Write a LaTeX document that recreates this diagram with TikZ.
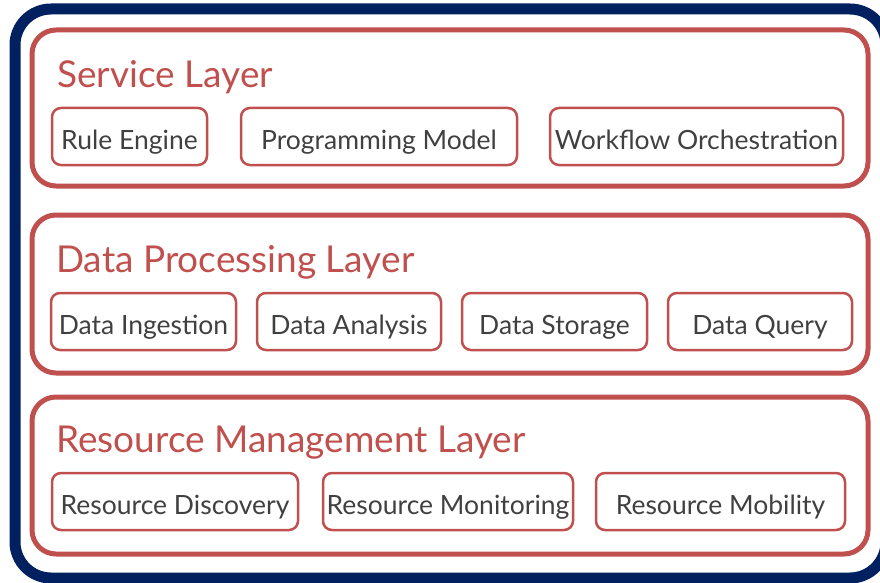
\documentclass[tikz,border=0pt]{standalone}
\usepackage{fontspec}
\setmainfont{Lato}
\usetikzlibrary{positioning}

\definecolor{navy}{HTML}{002060}
\definecolor{layerred}{HTML}{C0504D}
\definecolor{textgray}{HTML}{404040}

\begin{document}
\begin{tikzpicture}[
    x=1pt, y=-1pt,
    layer/.style={draw=layerred, line width=5pt, rounded corners=24pt, minimum width=836pt, inner sep=0pt},
    title/.style={anchor=base west, text=layerred, inner sep=0pt, font=\fontsize{37}{40}\selectfont},
    comp/.style={draw=layerred, line width=2.5pt, rounded corners=9pt, minimum height=57pt, inner sep=0pt,
                 text=textgray, text height=25pt, text depth=0pt, font=\fontsize{26.5}{30}\selectfont}
]

\useasboundingbox (0,0) rectangle (880,583);
\clip (0,0) rectangle (880,583);

% outer frame
\draw[navy, line width=11pt, rounded corners=36pt] (15,9) rectangle (886,578);

% layers
\node[layer, minimum height=156pt] (service)  at (450,108)   {};
\node[layer, minimum height=158pt] (data)     at (450,294)   {};
\node[layer, minimum height=157pt] (resource) at (450,475.5) {};

\node[title] (serviceTitle)  at (57,88)  {Service Layer};
\node[title] (dataTitle)     at (56,272) {Data Processing Layer};
\node[title] (resourceTitle) at (56,452) {Resource Management Layer};

% service components
\node[comp, minimum width=155pt] (ruleEngine) at (129.5,136.5) {Rule Engine};
\node[comp, minimum width=276pt] (progModel)  at (379,136.5)   {Programming Model};
\node[comp, minimum width=293pt] (workflow)   at (696.5,136.5) {Workflow Orchestration};

% data components
\node[comp, minimum width=185pt] (ingestion) at (143.5,321.5) {Data Ingestion};
\node[comp, minimum width=184pt] (analysis)  at (349,321.5)   {Data Analysis};
\node[comp, minimum width=185pt] (storage)   at (554.5,321.5) {Data Storage};
\node[comp, minimum width=184pt] (query)     at (760,321.5)   {Data Query};

% resource components
\node[comp, minimum width=246pt] (discovery)  at (175,501.5)   {Resource Discovery};
\node[comp, minimum width=250pt] (monitoring) at (448,501.5)   {Resource Monitoring};
\node[comp, minimum width=249pt] (mobility)   at (720.5,501.5) {Resource Mobility};

\end{tikzpicture}
\end{document}
